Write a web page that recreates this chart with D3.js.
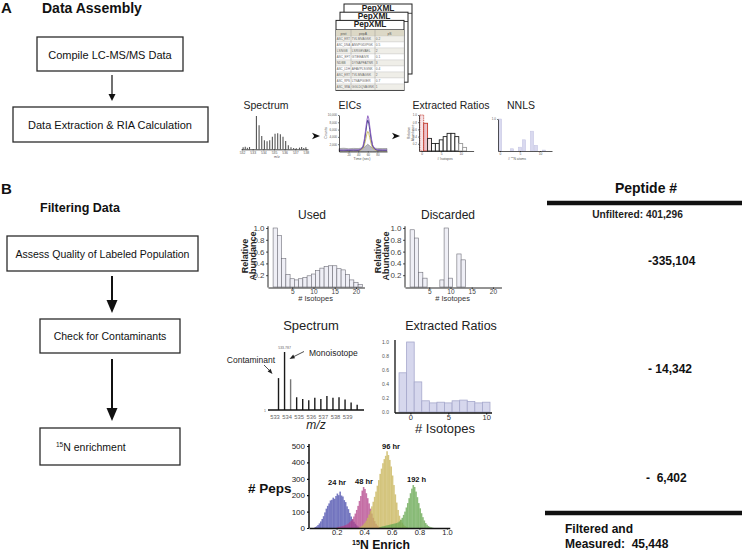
<!DOCTYPE html>
<html><head><meta charset="utf-8">
<script src="https://cdn.jsdelivr.net/npm/d3@7/dist/d3.min.js"></script>
<style>
body{margin:0;background:#fff;}
svg{display:block;}
</style></head><body><svg id="chart"></svg>
<script>
// ================= DATA =================
// Panel A – flow steps
const assemblySteps = ["Compile LC-MS/MS Data", "Data Extraction & RIA Calculation"];
const miniTitles = ["Spectrum", "EICs", "Extracted Ratios", "NNLS"];
// PepXML table (tiny)
const pepHeader = ["prot", "pepA", "pS"];
const pepRows = [
  ["ASC_ERT","TVLMVAGSK","0.2"],["ASC_DNA","ANVPGDIPGK","0.5"],["LSNGB","LSRGEVAEL","2"],
  ["ASC_EFT","GTIEEAIVR","0.1"],["NDBB","DYNAPFATNR","3"],["ASC_LDH","AFAVPLSGNK","0.4"],
  ["ASC_ERT","TVLMVAGSK","2"],["ASC_RPS","LTNAPGIIER","0.7"],["ASC_SRA","GGLDQVAGNK","1"]
];
// mini spectrum
const miniSpecMz = [532.1,532.3,532.5,532.7,533.35,533.6,533.85,534.1,534.35,534.6,534.85,535.1,535.35,535.6,535.85,536.1,536.35,536.6,536.85,537.1,537.4,537.6,537.8,538.0];
const miniSpecInt = [0.06,0.08,0.05,0.07,1.0,0.72,0.4,0.27,0.24,0.27,0.38,0.47,0.48,0.45,0.38,0.25,0.12,0.06,0.04,0.03,0.05,0.07,0.04,0.06];
const miniSpecTicks = [532,533,534,535,536,537,538];
// mini EICs
const eicTime = [0,10,20,30,40,45,50,53,56,58,60,62,64,67,70,75,80,90,100];
const eicPurple = [400,350,450,380,420,600,1500,3500,6500,8500,9800,9000,7000,4000,1800,700,450,400,380];
const eicNavy   = [300,320,280,350,300,500,1200,2800,5500,7500,8600,7800,6000,3300,1500,600,350,320,300];
const eicOlive  = [200,250,200,220,250,350,800,1800,3500,4800,5500,5000,3800,2100,900,400,250,200,220];
const eicGray   = [800,900,750,850,800,900,1000,1200,1500,1800,2000,1800,1500,1200,1000,900,850,800,820];
const eicYTicks = [2000,4000,6000,8000,10000];
const eicXTicks = [20,40,60,80];
// mini extracted ratios
const miniRatioIso = [0,1,2,3,4,5,6,7,8,9,10,11];
const miniRatioVal = [1.0,0.77,0.35,0.21,0.21,0.31,0.4,0.49,0.49,0.4,0.21,0.1];
const miniRatioXTicks = [0,5,10];
const miniRatioYTicks = [0.2,0.4,0.6,0.8,1.0];
// mini NNLS
const nnlsAtoms = [0,3,5,6,8,9,11];
const nnlsValues = [1.0,0.07,0.12,0.35,0.62,0.18,0.03];
const nnlsXTicks = [0,5,10];

// Panel B – flow steps
const filterSteps = ["Assess Quality of Labeled Population", "Check for Contaminants", "N enrichment"];
// Used / Discarded histograms
const usedIsotopes = [1,2,3,4,5,6,7,8,9,10,11,12,13,14,15,16,17,18,19,20,21];
const usedAbundance = [1.0,0.87,0.48,0.21,0.14,0.12,0.14,0.16,0.19,0.22,0.28,0.32,0.35,0.36,0.36,0.31,0.29,0.21,0.12,0.08,0.04];
const discardedIsotopes = [1,2,3,4,8,9,10,12,13];
const discardedAbundance = [0.97,0.83,0.25,0.15,0.12,1.0,0.15,0.56,0.46];
const isotopeTicks = [5,10,15,20];
const abundanceTicks = [0.2,0.4,0.6,0.8,1.0];
// Contaminant spectrum
const spectrumMz = [533.29,533.79,534.29,534.79,535.29,535.79,536.29,536.79,537.29,537.79,538.29,538.79,539.29,539.79];
const spectrumIntensity = [0.55,1.0,0.53,0.22,0.19,0.17,0.21,0.19,0.24,0.21,0.22,0.18,0.13,0.09];
const mzTicks = [533,534,535,536,537,538,539];
// Extracted ratios
const ratioIsotopes = [-1,0,1,2,3,4,5,6,7,8,9,10];
const ratioValues = [0.56,1.0,0.43,0.16,0.13,0.14,0.13,0.16,0.17,0.15,0.13,0.14];
const ratioYTicks = [0,0.2,0.4,0.6,0.8,1.0];
const ratioXTicks = [0,5,10];
// 15N enrichment histograms (bin width 0.01)
const binWidth = 0.01;
const enrich24Start = 0.04;
const enrich24 = [6,10,18,28,40,55,72,95,118,135,150,168,172,185,178,195,210,200,222,198,192,170,158,132,115,92,70,52,38,26,16,9,5,3];
const enrich48Start = 0.20;
const enrich48 = [4,6,8,10,12,15,18,22,28,35,44,55,70,88,110,135,165,195,228,250,238,212,182,150,118,88,62,42,26,15,8,4];
const enrich96Start = 0.36;
const enrich96 = [4,8,14,22,32,45,62,82,105,132,160,190,222,258,292,330,362,395,420,440,468,445,415,375,320,262,205,155,110,75,50,32,20,12,6,3];
const enrich192Start = 0.51;
const enrich192 = [5,8,10,12,14,16,18,20,22,24,26,28,30,34,40,50,62,80,100,125,152,182,212,240,262,250,222,188,152,120,90,66,46,30,20,12,7,4,2];
const timepointLabels = ["24 hr","48 hr","96 hr","192 h"];
const pepsTicks = [0,100,200,300,400,500];
const enrichTicks = [0.2,0.4,0.6,0.8,1.0];
// Peptide counts
const peptideHeader = "Peptide #";
const unfilteredLabel = "Unfiltered: 401,296";
const removedCounts = ["-335,104", "- 14,342", "-  6,402"];
const finalLabel = ["Filtered and", "Measured:  45,448"];

// ================= DRAW =================
const FONT = '"Liberation Sans", Arial, Helvetica, sans-serif';
const svg = d3.select("#chart").attr("width",744).attr("height",551).style("font-family",FONT);
svg.append("rect").attr("width",744).attr("height",551).attr("fill","#fff");

function txt(x,y,s,size,o={}){
  const t = svg.append("text").attr("x",x).attr("y",y).attr("font-size",size)
    .attr("fill",o.fill||"#111").style("white-space","pre").text(s);
  if(o.bold) t.attr("font-weight","bold");
  if(o.anchor) t.attr("text-anchor",o.anchor);
  if(o.italic) t.attr("font-style","italic");
  if(o.rot!=null) t.attr("transform",`rotate(${o.rot},${x},${y})`);
  return t;
}
function box(x,y,w,h){
  svg.append("rect").attr("x",x).attr("y",y).attr("width",w).attr("height",h)
    .attr("fill","none").attr("stroke","#2b2b2b").attr("stroke-width",1.3);
}
function arrowDown(x,y1,y2,hl,hw,sw){
  svg.append("line").attr("x1",x).attr("x2",x).attr("y1",y1).attr("y2",y2-hl+1)
    .attr("stroke","#111").attr("stroke-width",sw);
  svg.append("path").attr("d",`M${x-hw/2},${y2-hl}L${x+hw/2},${y2-hl}L${x},${y2}Z`).attr("fill","#111");
}
function chevron(x,y){
  svg.append("path").attr("d",`M${x},${y-3.2}L${x+8},${y}L${x},${y+3.2}L${x+2.2},${y}Z`).attr("fill","#111");
}
function styleAxis(g,o={}){
  g.attr("font-family",null).attr("font-size",null);
  g.selectAll("text").attr("font-size",o.font||6).attr("fill",o.color||"#444");
  g.select(".domain").attr("stroke",o.stroke||"#111").attr("stroke-width",o.sw||1);
  g.selectAll(".tick line").attr("stroke",o.stroke||"#111").attr("stroke-width",(o.sw||1)*0.8);
  return g;
}

// ---------- Panel A ----------
txt(1,13,"A",15,{bold:true});
txt(42,13,"Data Assembly",14,{bold:true});
box(37,37,146,34);
txt(110,58.5,assemblySteps[0],11,{anchor:"middle"});
arrowDown(112,75,101,7,7,1.2);
box(13,107,195,35);
txt(110,129,assemblySteps[1],11,{anchor:"middle"});

// PepXML stack
[[344,4],[340,12.2],[336,20.4]].forEach(([x,y])=>{
  svg.append("rect").attr("x",x).attr("y",y).attr("width",68).attr("height",70)
    .attr("fill","#fff").attr("stroke","#222").attr("stroke-width",1);
  txt(x+34,y+7,"PepXML",8.3,{bold:true,anchor:"middle",fill:"#222"});
  svg.append("line").attr("x1",x).attr("x2",x+68).attr("y1",y+9.3).attr("y2",y+9.3).attr("stroke","#222").attr("stroke-width",0.8);
});
{
  const fx=336, top=30, rowH=6, colX=[336,351,375,404];
  svg.append("rect").attr("x",fx).attr("y",top).attr("width",68).attr("height",rowH).attr("fill","#dcd8c6");
  pepHeader.forEach((h,j)=>txt((colX[j]+colX[j+1])/2,top+4.5,h,3.4,{anchor:"middle",fill:"#555"}));
  pepRows.forEach((r,i)=>{
    const yy=top+rowH*(i+1);
    svg.append("rect").attr("x",fx).attr("y",yy).attr("width",68).attr("height",rowH)
      .attr("fill",i%2?"#fff":"#efeee8").attr("stroke","#bbb").attr("stroke-width",0.3);
    r.forEach((c,j)=>{
      const t=txt(colX[j]+0.8,yy+4.3,c,3.2,{fill:"#666"});
      const maxW=colX[j+1]-colX[j]-1.8;
      if(t.node().getComputedTextLength()>maxW) t.attr("textLength",maxW).attr("lengthAdjust","spacingAndGlyphs");
    });
  });
  colX.slice(1,3).forEach(cx=>svg.append("line").attr("x1",cx).attr("x2",cx).attr("y1",top).attr("y2",top+rowH*10).attr("stroke","#888").attr("stroke-width",0.4));
}

// Mini titles
txt(266,109,miniTitles[0],10.5,{anchor:"middle",fill:"#222"});
txt(350,109,miniTitles[1],10.5,{anchor:"middle",fill:"#222"});
txt(451,109,miniTitles[2],10.5,{anchor:"middle",fill:"#222"});
txt(521,109,miniTitles[3],10.5,{anchor:"middle",fill:"#222"});

// mini spectrum
{
  const x=d3.scaleLinear().domain([531.9,538.2]).range([241,308]);
  const y=d3.scaleLinear().domain([0,1]).range([149.3,116]);
  svg.append("g").selectAll("line").data(miniSpecMz).join("line")
    .attr("x1",d=>x(d)).attr("x2",d=>x(d)).attr("y1",y(0)).attr("y2",(d,i)=>y(miniSpecInt[i]))
    .attr("stroke","#555").attr("stroke-width",1.1);
  const g=svg.append("g").attr("transform",`translate(0,${y(0)})`)
    .call(d3.axisBottom(x).tickValues(miniSpecTicks).tickSize(1).tickSizeOuter(0).tickPadding(1).tickFormat(d3.format("d")));
  styleAxis(g,{font:3.4,color:"#555",sw:0.8});
  txt(277,158,"m/z",3.6,{anchor:"middle",fill:"#555"});
}
chevron(312,136);

// mini EIC
{
  const x=d3.scaleLinear().domain([0,100]).range([339,387]);
  const y=d3.scaleLinear().domain([0,10000]).range([151.5,115]);
  const line=d3.line().x(d=>x(d[0])).y(d=>y(d[1]));
  const area=d3.area().x(d=>x(d[0])).y0(y(0)).y1(d=>y(d[1]));
  svg.append("path").datum(eicTime.map((t,i)=>[t,eicGray[i]])).attr("d",area).attr("fill","#b9b9c4").attr("stroke","#777").attr("stroke-width",0.5);
  [[eicOlive,"#c8b85a"],[eicNavy,"#2d2f7a"],[eicPurple,"#8a5bbf"]].forEach(([s,c])=>{
    svg.append("path").datum(eicTime.map((t,i)=>[t,s[i]])).attr("d",line).attr("fill","none").attr("stroke",c).attr("stroke-width",0.9);
  });
  const gy=svg.append("g").attr("transform",`translate(${x(0)},0)`)
    .call(d3.axisLeft(y).tickValues(eicYTicks).tickSize(1).tickSizeOuter(0).tickPadding(1));
  styleAxis(gy,{font:3,color:"#555",sw:0.7});
  const gx=svg.append("g").attr("transform",`translate(0,${y(0)})`)
    .call(d3.axisBottom(x).tickValues(eicXTicks).tickSize(1).tickSizeOuter(0).tickPadding(1));
  styleAxis(gx,{font:3,color:"#555",sw:0.7});
  txt(327,133,"Counts",3.6,{anchor:"middle",fill:"#555",rot:-90});
  txt(362,160,"Time (sec)",3.6,{anchor:"middle",fill:"#555"});
}
chevron(392,136);

// mini Extracted Ratios
{
  const x=d3.scaleLinear().domain([-0.7,13.3]).range([419,473.6]);
  const y=d3.scaleLinear().domain([0,1]).range([151,115]);
  const bw=x(1)-x(0);
  svg.append("g").selectAll("rect").data(miniRatioIso).join("rect")
    .attr("x",d=>x(d-0.5)).attr("width",bw).attr("y",(d,i)=>y(miniRatioVal[i])).attr("height",(d,i)=>y(0)-y(miniRatioVal[i]))
    .attr("fill",(d,i)=>i===0?"#f6e2e6":i===1?"#eec3cc":i===2?"#f7e8eb":"#fff")
    .attr("stroke",(d,i)=>i<2?"#c0392b":i>9?"#999":"#222")
    .attr("stroke-dasharray",(d,i)=>i===0?"1,0.8":null)
    .attr("stroke-width",0.9);
  const gy=svg.append("g").attr("transform",`translate(${x(-0.7)},0)`)
    .call(d3.axisLeft(y).tickValues(miniRatioYTicks).tickSize(1).tickSizeOuter(0).tickPadding(1).tickFormat(d3.format(".1f")));
  styleAxis(gy,{font:3,color:"#555",sw:0.7});
  const gx=svg.append("g").attr("transform",`translate(0,${y(0)})`)
    .call(d3.axisBottom(x).tickValues(miniRatioXTicks).tickSize(1).tickSizeOuter(0).tickPadding(1));
  styleAxis(gx,{font:3.2,color:"#555",sw:0.7});
  txt(410,133,"Relative",3.3,{anchor:"middle",fill:"#555",rot:-90});
  txt(413.5,133,"Abundance",3.3,{anchor:"middle",fill:"#555",rot:-90});
  txt(445,160,"# Isotopes",3.4,{anchor:"middle",fill:"#555"});
}

// mini NNLS
{
  const x=d3.scaleLinear().domain([-0.5,13]).range([498,552]);
  const y=d3.scaleLinear().domain([0,1]).range([151,119]);
  const bw=(x(1)-x(0))*0.85;
  svg.append("g").selectAll("rect").data(nnlsAtoms).join("rect")
    .attr("x",d=>x(d)-bw/2).attr("width",bw).attr("y",(d,i)=>y(nnlsValues[i])).attr("height",(d,i)=>y(0)-y(nnlsValues[i]))
    .attr("fill","#d9d9ef").attr("stroke","#c4c4e2").attr("stroke-width",0.5);
  const gy=svg.append("g").attr("transform",`translate(${x(-0.5)},0)`)
    .call(d3.axisLeft(y).tickValues([1.0]).tickSize(1).tickSizeOuter(0).tickPadding(1).tickFormat(d3.format(".1f")));
  styleAxis(gy,{font:3,color:"#555",sw:0.7});
  const gx=svg.append("g").attr("transform",`translate(0,${y(0)})`)
    .call(d3.axisBottom(x).tickValues(nnlsXTicks).tickSize(1).tickSizeOuter(0).tickPadding(1));
  styleAxis(gx,{font:3.2,color:"#555",sw:0.7});
  const t=svg.append("text").attr("x",517).attr("y",159.5).attr("text-anchor","middle").attr("font-size",3.4).attr("fill","#555");
  t.append("tspan").text("# ");
  t.append("tspan").attr("font-size",2.4).attr("dy",-1.2).text("15");
  t.append("tspan").attr("dy",1.2).text("N atoms");
}

// ---------- Panel B ----------
txt(1,194,"B",15,{bold:true});
txt(40,211.5,"Filtering Data",12.5,{bold:true});
box(7,236,191,35);
txt(102.5,257.5,filterSteps[0],10.5,{anchor:"middle"});
arrowDown(112,276,313,13,11,2);
box(40,319,140,34);
txt(110,340,filterSteps[1],10.5,{anchor:"middle"});
arrowDown(112,359,421,13,11,2);
box(40,428,140,37);
{
  const t=svg.append("text").attr("x",56).attr("y",450.5).attr("font-size",10.5).attr("fill","#111");
  t.append("tspan").attr("font-size",6.5).attr("dy",-4).text("15");
  t.append("tspan").attr("dy",4).text(filterSteps[2]);
}

// Used / Discarded
function isoHist(x0,labelX,title,titleX,iso,vals){
  const x=d3.scaleLinear().domain([-0.7,22]).range([x0-3,x0-3+22.7*4.25]);
  const y=d3.scaleLinear().domain([0,1]).range([287,228]);
  txt(titleX,218.5,title,12,{anchor:"middle",fill:"#222"});
  svg.append("g").selectAll("rect").data(iso).join("rect")
    .attr("x",d=>x(d-0.5)).attr("width",x(1)-x(0)).attr("y",(d,i)=>y(vals[i])).attr("height",(d,i)=>y(0)-y(vals[i]))
    .attr("fill","#efeff6").attr("stroke","#6e6e78").attr("stroke-width",0.6);
  const gy=svg.append("g").attr("transform",`translate(${x(-0.7)},0)`)
    .call(d3.axisLeft(y).tickValues(abundanceTicks).tickSize(2).tickSizeOuter(0).tickPadding(1.5).tickFormat(d3.format(".1f")));
  styleAxis(gy,{font:8,color:"#444",sw:0.9});
  gy.select(".domain").attr("d",`M0,${y(1.03)}V${y(0)+0.5}`);
  const gx=svg.append("g").attr("transform",`translate(0,${y(0)+0.5})`)
    .call(d3.axisBottom(x).tickValues(isotopeTicks).tickSize(1.5).tickSizeOuter(0).tickPadding(0.5));
  styleAxis(gx,{font:6.5,color:"#444",sw:0.9});
  txt((x(0)+x(21))/2,301,"# Isotopes",7.5,{anchor:"middle",fill:"#333"});
  txt(labelX,256,"Relative",9,{anchor:"middle",bold:true,rot:-90,fill:"#222"});
  txt(labelX+8,256,"Abundance",9,{anchor:"middle",bold:true,rot:-90,fill:"#222"});
}
isoHist(271,247.5,"Used",312,usedIsotopes,usedAbundance);
isoHist(408,380.5,"Discarded",448,discardedIsotopes,discardedAbundance);

// Contaminant spectrum
{
  const x=d3.scaleLinear().domain([533,540]).range([275,275+7*12.1]);
  const y=d3.scaleLinear().domain([0,1]).range([410,352]);
  txt(311,330,"Spectrum",13,{anchor:"middle",fill:"#222"});
  svg.append("g").selectAll("line").data(spectrumMz).join("line")
    .attr("x1",d=>x(d)).attr("x2",d=>x(d)).attr("y1",y(0)).attr("y2",(d,i)=>y(spectrumIntensity[i]))
    .attr("stroke",(d,i)=>i===2?"#777":"#1a1a1a").attr("stroke-width",1.4);
  svg.append("line").attr("x1",268).attr("x2",364).attr("y1",y(0)).attr("y2",y(0)).attr("stroke","#111").attr("stroke-width",1.6);
  mzTicks.forEach(m=>txt(x(m),418.5,String(m),5.8,{anchor:"middle",fill:"#666"}));
  txt(265,412,"1",3.5,{anchor:"middle",fill:"#666"});
  txt(x(spectrumMz[1]),348.5,"533.787",3.5,{anchor:"middle",fill:"#666"});
  txt(316,429,"m/z",12,{anchor:"middle",italic:true,fill:"#222"});
  txt(275,363,"Contaminant",8.5,{anchor:"end",fill:"#222"});
  txt(309,356,"Monoisotope",8.5,{fill:"#222"});
  svg.append("line").attr("x1",264).attr("y1",365).attr("x2",270).attr("y2",371).attr("stroke","#222").attr("stroke-width",0.8);
  svg.append("path").attr("d","M272.5,374L267.6,371.5L270.6,368.8Z").attr("fill","#222");
  svg.append("line").attr("x1",304).attr("y1",351.5).attr("x2",293).attr("y2",357).attr("stroke","#222").attr("stroke-width",0.8);
  svg.append("path").attr("d","M289.5,359L293.2,354.6L295,358.3Z").attr("fill","#222");
}

// Extracted ratios
{
  const x=d3.scaleLinear().domain([-2,11]).range([410.4-2*7.58,410.4+11*7.58]);
  const y=d3.scaleLinear().domain([0,1]).range([412,342]);
  txt(451,330,"Extracted Ratios",12.5,{anchor:"middle",fill:"#222"});
  svg.append("g").selectAll("rect").data(ratioIsotopes).join("rect")
    .attr("x",d=>x(d-0.5)).attr("width",x(1)-x(0)).attr("y",(d,i)=>y(ratioValues[i])).attr("height",(d,i)=>y(0)-y(ratioValues[i]))
    .attr("fill","#d6d7ed").attr("stroke","#a6a8cc").attr("stroke-width",0.8);
  svg.append("line").attr("x1",395).attr("x2",395).attr("y1",340).attr("y2",413).attr("stroke","#111").attr("stroke-width",1.3);
  const gx=svg.append("g").attr("transform",`translate(0,413)`)
    .call(d3.axisBottom(x).tickValues(ratioXTicks).tickSize(1.5).tickSizeOuter(0).tickPadding(0.5));
  styleAxis(gx,{font:7.5,color:"#333",sw:1.3});
  gx.select(".domain").attr("d","M395,0H492");
  ratioYTicks.forEach(v=>txt(389,y(v)+2,d3.format(".1f")(v),5,{anchor:"end",fill:"#555"}));
  txt(445,433,"# Isotopes",13,{anchor:"middle",fill:"#222"});
}

// 15N enrichment histograms
{
  const x=d3.scaleLinear().domain([0,1.02]).range([309,309+1.02*138]);
  const y=d3.scaleLinear().domain([0,500]).range([528,446]);
  const series=[
    {start:enrich24Start,vals:enrich24,color:"#5153b0",op:0.78},
    {start:enrich48Start,vals:enrich48,color:"#b23f88",op:0.72},
    {start:enrich96Start,vals:enrich96,color:"#c9b65c",op:0.78},
    {start:enrich192Start,vals:enrich192,color:"#6aa955",op:0.78}
  ];
  const bw=x(binWidth)-x(0);
  series.forEach(s=>{
    svg.append("g").selectAll("rect").data(s.vals).join("rect")
      .attr("x",(d,i)=>x(s.start+i*binWidth)).attr("width",bw+0.2)
      .attr("y",d=>y(d)).attr("height",d=>y(0)-y(d))
      .attr("fill",s.color).attr("fill-opacity",s.op);
  });
  const gy=svg.append("g").attr("transform",`translate(309,0)`)
    .call(d3.axisLeft(y).tickValues(pepsTicks).tickSize(2).tickSizeOuter(0).tickPadding(2));
  styleAxis(gy,{font:8,color:"#222",sw:1.5});
  gy.select(".domain").attr("d",`M0,444V${y(0)}`);
  const gx=svg.append("g").attr("transform",`translate(0,528)`)
    .call(d3.axisBottom(x).tickValues(enrichTicks).tickSize(1.5).tickSizeOuter(0).tickPadding(0).tickFormat(d3.format(".1f")));
  styleAxis(gx,{font:7.5,color:"#222",sw:1.5});
  txt(248,493,"# Peps",13.5,{bold:true,fill:"#111"});
  const t=svg.append("text").attr("x",381).attr("y",548.8).attr("text-anchor","middle").attr("font-size",12.2).attr("font-weight","bold").attr("fill","#111");
  t.append("tspan").attr("font-size",7.2).attr("dy",-4.3).text("15");
  t.append("tspan").attr("dy",4.3).text("N Enrich");
  txt(328,485,timepointLabels[0],7.5,{bold:true});
  txt(355,484,timepointLabels[1],7.5,{bold:true});
  txt(382,449,timepointLabels[2],7.5,{bold:true});
  txt(407,482,timepointLabels[3],7.5,{bold:true});
}

// Peptide count column
txt(646,193,peptideHeader,14,{bold:true,anchor:"middle"});
svg.append("line").attr("x1",547).attr("x2",742).attr("y1",203).attr("y2",203).attr("stroke","#111").attr("stroke-width",4.5);
txt(637.5,218,unfilteredLabel,10.2,{bold:true,anchor:"middle",fill:"#222"});
txt(648,264.5,removedCounts[0],12,{bold:true,fill:"#111"});
txt(648,372.5,removedCounts[1],12,{bold:true,fill:"#111"});
txt(646,481.5,removedCounts[2],12,{bold:true,fill:"#111"});
svg.append("line").attr("x1",545).attr("x2",742).attr("y1",513).attr("y2",513).attr("stroke","#111").attr("stroke-width",4.5);
txt(565,532.5,finalLabel[0],12,{bold:true,fill:"#111"});
txt(565,547.5,finalLabel[1],12,{bold:true,fill:"#111"});
</script></body></html>
